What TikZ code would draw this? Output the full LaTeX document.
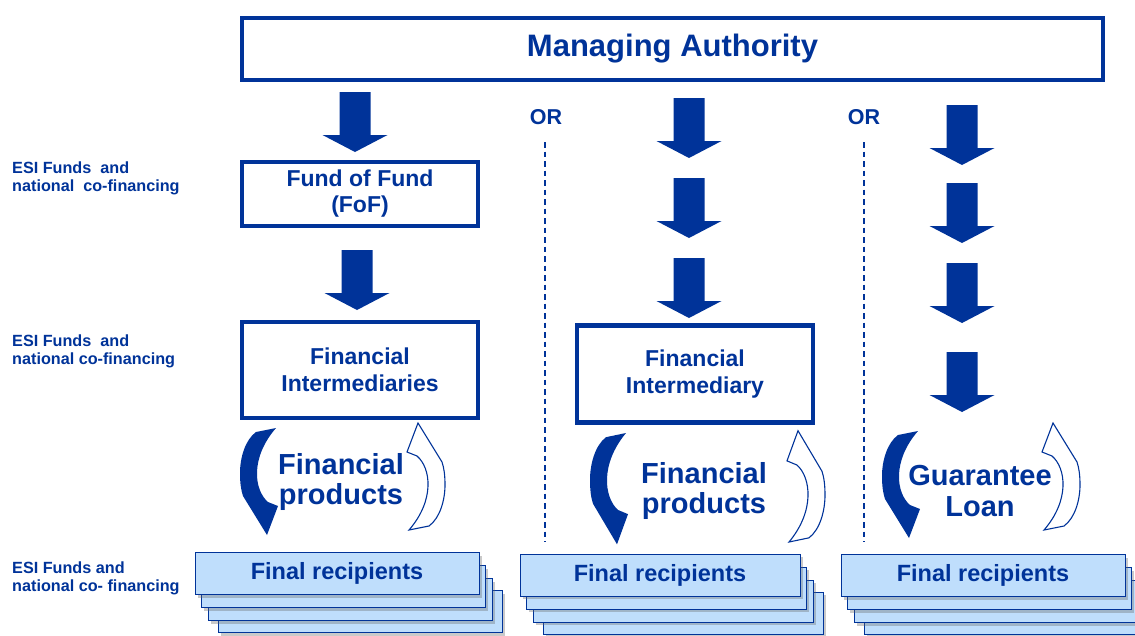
\documentclass[tikz,border=0pt]{standalone}
\usepackage{fontspec}
\setmainfont{Liberation Sans}
\usetikzlibrary{shadows}
\definecolor{ablue}{RGB}{0,51,153}
\definecolor{lblue}{RGB}{191,222,252}
\tikzset{
  mabox/.style={draw=ablue, line width=4.5, fill=white, text=ablue, font=\bfseries\fontsize{31}{34}\selectfont},
  fofbox/.style={draw=ablue, line width=3.5, fill=white, text=ablue, align=center, font=\bfseries\fontsize{23}{26}\selectfont},
  fibox/.style={draw=ablue, line width=4.5, fill=white, text=ablue, align=center, font=\bfseries\fontsize{23}{26.5}\selectfont},
  prodtext/.style={text=ablue, align=center, font=\bfseries\fontsize{29}{30.5}\selectfont},
  ortext/.style={text=ablue, font=\bfseries\fontsize{21.5}{24}\selectfont},
  sidetext/.style={text=ablue, align=left, anchor=north west, inner sep=0, font=\bfseries\fontsize{16.2}{17.5}\selectfont},
  frbox/.style={draw=ablue, line width=1, fill=lblue, minimum width=284, minimum height=42, text=ablue,
    font=\bfseries\fontsize{23.5}{26}\selectfont,
    drop shadow={shadow xshift=3pt, shadow yshift=-3pt, opacity=0.35, fill=black!60}},
  sepline/.style={draw=ablue, line width=1.2, dash pattern=on 5.5pt off 4pt},
  blockarrow/.pic={\fill[ablue] (-15.5,0) -- (15.5,0) -- (15.5,43) -- (32.5,43) -- (0,60) -- (-32.5,43) -- (-15.5,43) -- cycle;},
  curvpath/.pic={\path[pic actions] (36,0) -- (16,4) .. controls (5,12) and (0,30) .. (0,45)
      .. controls (0,55) and (1,62) .. (3,68) -- (27,107) -- (38,78) -- (28,74)
      .. controls (14,62) and (10,30) .. (36,0) -- cycle;},
}
\begin{document}
\begin{tikzpicture}[x=1pt,y=-1pt]
\useasboundingbox[fill=white] (0,0) rectangle (1135,635);

% Managing authority
\node[mabox, minimum width=861, minimum height=62] (ma) at (672.5,49) {\raisebox{-3pt}{Managing Authority}};

% OR labels and separators
\node[ortext] (or1) at (546,117) {OR};
\node[ortext] (or2) at (864,117) {OR};
\coordinate (s1t) at (545,142); \coordinate (s1b) at (545,542);
\coordinate (s2t) at (864,142); \coordinate (s2b) at (864,542);
\draw[sepline] (s1t) -- (s1b);
\draw[sepline] (s2t) -- (s2b);

% side labels
\node[sidetext] (l1) at (12,162) {ESI Funds\ \ and\\national\ \ co-financing};
\node[sidetext] (l2) at (12,335) {ESI Funds\ \ and\\national co-financing};
\node[sidetext] (l3) at (12,562) {ESI Funds and\\national co- financing};

% column 1
\pic at (355,92) {blockarrow};
\node[fofbox, minimum width=236, minimum height=64] (fof) at (360,194) {Fund of Fund\\(FoF)};
\pic at (357,250) {blockarrow};
\node[fibox, minimum width=236, minimum height=96] (fi1) at (360,370) {Financial\\Intermediaries};
\pic[fill=ablue] at (240,428) {curvpath};
\pic[draw=ablue, fill=white, line width=1.1, rotate=180] at (445,530) {curvpath};
\node[prodtext] (p1) at (341,482) {Financial\\products};

% column 2
\pic at (689,98) {blockarrow};
\pic at (689,178) {blockarrow};
\pic at (689,258) {blockarrow};
\node[fibox, minimum width=236, minimum height=97] (fi2) at (695,374) {Financial\\Intermediary};
\pic[fill=ablue, yscale=1.04] at (590,433) {curvpath};
\pic[draw=ablue, fill=white, line width=1.1, rotate=180, yscale=1.04] at (825,542) {curvpath};
\node[prodtext] (p2) at (704,491) {Financial\\products};

% column 3
\pic at (962,105) {blockarrow};
\pic at (962,183) {blockarrow};
\pic at (962,263) {blockarrow};
\pic at (962,352) {blockarrow};
\pic[fill=ablue] at (882,431) {curvpath};
\pic[draw=ablue, fill=white, line width=1.1, rotate=180] at (1080,530) {curvpath};
\node[prodtext] (p3) at (980,491) {Guarantee\\Loan};

% final recipients stacks
\foreach \cx/\cy/\w/\nm in {337/573.5/284/a, 660/575/280/b, 983/575.5/284/c}{
  \node[frbox, minimum width=\w] (fr\nm3) at (\cx+23,\cy+38) {};
  \node[frbox, minimum width=\w] (fr\nm2) at (\cx+13,\cy+26) {};
  \node[frbox, minimum width=\w] (fr\nm1) at (\cx+6,\cy+13) {};
  \node[frbox, minimum width=\w] (fr\nm0) at (\cx,\cy) {Final recipients};
}
\end{tikzpicture}
\end{document}
